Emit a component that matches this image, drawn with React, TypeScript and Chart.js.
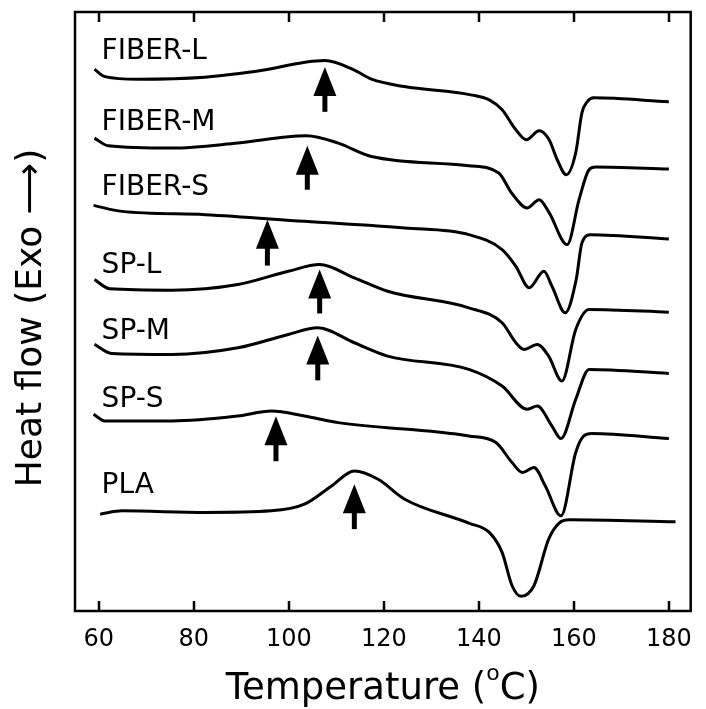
import React, { useEffect, useRef } from "react";
import { Chart, registerables } from "chart.js";
Chart.register(...registerables);

// ---- data (temperature in °C, heat flow in arbitrary stacked units) ----
const seriesNames = ["FIBER-L", "FIBER-M", "FIBER-S", "SP-L", "SP-M", "SP-S", "PLA"];

const fiberLTemp = [59.1, 61.3, 68.3, 82.3, 92.8, 107.6, 113.7, 117.4, 124.3, 138.3, 142.2, 144.9, 147.8, 150.0, 152.7, 154.8, 156.5, 158.4, 160.4, 161.7, 162.8, 164.2, 180.0];
const fiberLFlow = [542.7, 535.3, 532.7, 534.7, 540.3, 551.3, 542, 532.7, 525.3, 517, 512, 502, 482, 472, 481, 472, 452, 437, 459, 499, 510, 514, 510];

const fiberMTemp = [59.1, 62.0, 75.4, 89.3, 103.7, 110.4, 117.4, 137.9, 144.2, 146.9, 150.2, 152.7, 154.8, 158.6, 161.1, 163.2, 164.6, 180.0];
const fiberMFlow = [473.7, 466, 463.7, 468.7, 476, 468.7, 455.3, 446, 438.7, 418.7, 403.7, 412, 399, 367, 412, 442, 444.7, 442.7];

const fiberSTemp = [58.9, 64.9, 82.4, 103.3, 124.4, 137.9, 144.9, 147.8, 150.6, 153.7, 155.4, 158.2, 160.5, 161.7, 163.6, 180.0];
const fiberSFlow = [406.3, 400.3, 397, 390.3, 383.7, 377, 362, 345.3, 323.7, 340.3, 325.3, 298.7, 332, 368.7, 377, 372.7];

const spLTemp = [59.1, 62.3, 75.4, 89.3, 99.9, 106.5, 113.8, 120.8, 137.9, 144.9, 147.8, 149.5, 152.3, 154.7, 157.5, 160.4, 163.2, 180.0];
const spLFlow = [332, 322.7, 321.3, 327, 340.3, 347, 333.7, 320.3, 303.7, 288.7, 268.7, 262, 267, 255.3, 230.3, 282, 302, 299.3];

const spMTemp = [59.1, 62.7, 75.4, 89.3, 99.9, 106.1, 113.8, 120.8, 137.9, 144.9, 150.2, 152.3, 155.4, 157.3, 160.4, 163.2, 180.0];
const spMFlow = [267, 258, 257, 263.7, 277, 283.7, 268.7, 255.3, 242, 225.3, 202, 205.3, 185.3, 172.7, 212, 242, 238];

const spSTemp = [58.9, 61.3, 75.4, 89.3, 96.3, 103.3, 110.4, 137.9, 143.6, 147.0, 149.2, 151.6, 154.0, 157.3, 160.4, 162.1, 163.8, 180.0];
const spSFlow = [197, 190.3, 190.3, 195.3, 200.3, 195.3, 188.7, 175.3, 168.7, 148.7, 138.7, 143.7, 125.3, 95.3, 158.7, 175.3, 177.7, 172.7];

const plaTemp = [60.3, 64.9, 82.4, 96.3, 103.3, 109.0, 113.8, 118.8, 124.4, 137.9, 142.2, 144.9, 147.0, 148.9, 151.6, 154.7, 156.9, 159.0, 181.4];
const plaFlow = [97, 100.3, 98.7, 100.3, 107, 125.3, 140.3, 132, 112, 88, 78.7, 58.7, 25.3, 14.7, 25.3, 72, 88, 91.3, 89.3];

// crystallization-peak arrows (temperature, tip value, tail value)
const arrowTemps = [107.6, 103.9, 95.5, 106.5, 106.1, 97.3, 113.8];
const arrowTips = [545, 466, 392, 342, 276, 195, 127];
const arrowTails = [500, 422, 346, 298, 231, 150, 82];

// curve label anchor values (heat-flow units) and temperature of left edge
const labelFlows = [560, 489, 424, 346, 280, 212, 125];
const labelTemp = 60.6;

const xTicks = [60, 80, 100, 120, 140, 160, 180];
const xTitle = "Temperature (";
const xTitleSup = "o";
const xTitleEnd = "C)";
const yTitle = "Heat flow (Exo \u27F6)";

const FONT = "'DejaVu Sans', sans-serif";

const allTemps = [fiberLTemp, fiberMTemp, fiberSTemp, spLTemp, spMTemp, spSTemp, plaTemp];
const allFlows = [fiberLFlow, fiberMFlow, fiberSFlow, spLFlow, spMFlow, spSFlow, plaFlow];

const decorPlugin = {
  id: "decor",
  afterDraw(chart: any) {
    const { ctx, chartArea, scales } = chart;
    const xs = scales.x;
    const ys = scales.y;
    ctx.save();
    // frame
    ctx.strokeStyle = "#000";
    ctx.lineWidth = 2.5;
    ctx.strokeRect(chartArea.left, chartArea.top, chartArea.right - chartArea.left, chartArea.bottom - chartArea.top);
    // inward ticks top & bottom
    xTicks.forEach((t) => {
      const px = Math.round(xs.getPixelForValue(t));
      ctx.beginPath();
      ctx.moveTo(px, chartArea.bottom);
      ctx.lineTo(px, chartArea.bottom - 10);
      ctx.moveTo(px, chartArea.top);
      ctx.lineTo(px, chartArea.top + 10);
      ctx.stroke();
    });
    // arrows
    ctx.fillStyle = "#000";
    arrowTemps.forEach((t, i) => {
      const px = xs.getPixelForValue(t);
      const tip = ys.getPixelForValue(arrowTips[i]);
      const tail = ys.getPixelForValue(arrowTails[i]);
      const headH = 29;
      const headW = 11.5;
      ctx.beginPath();
      ctx.moveTo(px, tip);
      ctx.lineTo(px - headW, tip + headH);
      ctx.lineTo(px + headW, tip + headH);
      ctx.closePath();
      ctx.fill();
      ctx.fillRect(px - 2.5, tip + headH - 1, 5, tail - (tip + headH - 1));
    });
    // curve labels
    ctx.font = `28px ${FONT}`;
    ctx.textAlign = "left";
    ctx.textBaseline = "middle";
    seriesNames.forEach((name, i) => {
      ctx.fillText(name, xs.getPixelForValue(labelTemp), ys.getPixelForValue(labelFlows[i]));
    });
    // y title
    ctx.save();
    ctx.translate(32, 318);
    ctx.rotate(-Math.PI / 2);
    ctx.font = `36px ${FONT}`;
    ctx.textAlign = "center";
    ctx.textBaseline = "middle";
    ctx.fillText(yTitle, 0, 0);
    ctx.restore();
    // x title with superscript
    const big = 37;
    const small = 22;
    ctx.textBaseline = "alphabetic";
    ctx.font = `${big}px ${FONT}`;
    const w1 = ctx.measureText(xTitle).width;
    const w3 = ctx.measureText(xTitleEnd).width;
    ctx.font = `${small}px ${FONT}`;
    const w2 = ctx.measureText(xTitleSup).width;
    const total = w1 + w2 + w3;
    const cx = (chartArea.left + chartArea.right) / 2;
    const base = 699;
    let x = cx - total / 2;
    ctx.textAlign = "left";
    ctx.font = `${big}px ${FONT}`;
    ctx.fillText(xTitle, x, base);
    x += w1;
    ctx.font = `${small}px ${FONT}`;
    ctx.fillText(xTitleSup, x, base - 19);
    x += w2;
    ctx.font = `${big}px ${FONT}`;
    ctx.fillText(xTitleEnd, x, base);
    ctx.restore();
  },
};

export default function App() {
  const ref = useRef<HTMLCanvasElement | null>(null);
  useEffect(() => {
    if (!ref.current) return;
    const datasets = seriesNames.map((name, i) => ({
      label: name,
      data: allTemps[i].map((t, j) => ({ x: t, y: allFlows[i][j] })),
      borderColor: "#000",
      borderWidth: 3,
      pointRadius: 0,
      fill: false,
      cubicInterpolationMode: "monotone" as const,
    }));
    const chart = new Chart(ref.current, {
      type: "line",
      data: { datasets },
      options: {
        animation: false,
        responsive: false,
        maintainAspectRatio: false,
        layout: { padding: { top: 12, right: 7, left: 0, bottom: 0 } },
        plugins: { legend: { display: false }, tooltip: { enabled: false } },
        scales: {
          x: {
            type: "linear",
            min: 55,
            max: 184.6,
            grid: { display: false, drawTicks: false },
            border: { display: false },
            afterBuildTicks: (s: any) => {
              s.ticks = xTicks.map((v) => ({ value: v }));
            },
            afterFit: (s: any) => {
              s.height = 98;
            },
            ticks: {
              color: "#000",
              font: { family: FONT, size: 24 },
              padding: 14,
              maxRotation: 0,
              autoSkip: false,
            },
          },
          y: {
            type: "linear",
            min: 0,
            max: 600,
            grid: { display: false, drawTicks: false },
            border: { display: false },
            ticks: { display: false },
            afterFit: (s: any) => {
              s.width = 75;
            },
          },
        },
      },
      plugins: [decorPlugin],
    });
    return () => chart.destroy();
  }, []);
  return (
    <div style={{ position: "fixed", left: 0, top: 0, width: 706, height: 709, background: "#fff" }}>
      <canvas ref={ref} width={706} height={709} style={{ width: 706, height: 709 }} />
    </div>
  );
}
